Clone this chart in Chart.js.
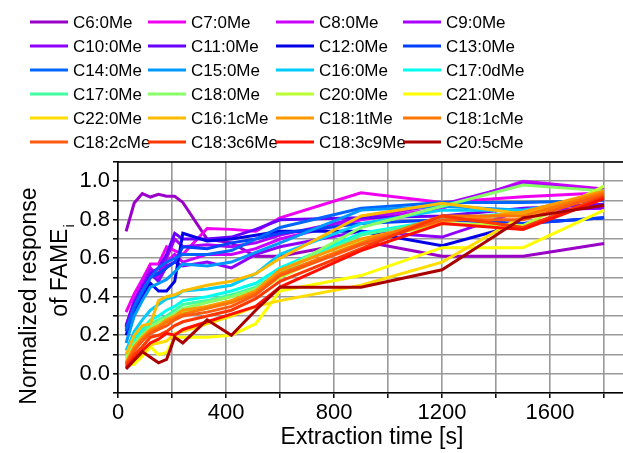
<!DOCTYPE html>
<html>
<head>
<meta charset="utf-8">
<script src="https://cdn.jsdelivr.net/npm/chart.js@4.4.1/dist/chart.umd.min.js"></script>
<style>
  html, body { margin: 0; padding: 0; background: #fff; }
  canvas { display: block; }
</style>
</head>
<body>
<canvas id="chart" width="623" height="453"></canvas>
<script>
// extraction times [s]
const times = [30, 60, 90, 120, 150, 180, 210, 240, 330, 420, 510, 600, 900, 1200, 1500, 1800];

const names = ['C6:0Me', 'C7:0Me', 'C8:0Me', 'C9:0Me', 'C10:0Me', 'C11:0Me', 'C12:0Me', 'C13:0Me',
  'C14:0Me', 'C15:0Me', 'C16:0Me', 'C17:0dMe', 'C17:0Me', 'C18:0Me', 'C20:0Me', 'C21:0Me',
  'C22:0Me', 'C16:1cMe', 'C18:1tMe', 'C18:1cMe', 'C18:2cMe', 'C18:3c6Me', 'C18:3c9Me', 'C20:5cMe'];

const colors = ['#9a00c8', '#f000f0', '#cc00ff', '#aa00ff', '#9000ff', '#6a00ff', '#0000e6', '#0040ff',
  '#0066ff', '#0099ff', '#00ccff', '#00ffee', '#40ffa0', '#88ff66', '#bbff33', '#ffff00',
  '#ffdd00', '#ffbb00', '#ff9900', '#ff7700', '#ff5a10', '#ff3800', '#ff1000', '#aa0000'];

// normalized response per FAME, one value per extraction time
const c6_0   = [0.74, 0.887, 0.936, 0.918, 0.932, 0.922, 0.922, 0.89, 0.70, 0.68, 0.61, 0.61, 0.69, 0.61, 0.61, 0.677];
const c7_0   = [0.32, 0.415, 0.49, 0.57, 0.57, 0.66, 0.64, 0.62, 0.755, 0.75, 0.74, 0.81, 0.94, 0.89, 0.92, 0.94];
const c8_0   = [0.25, 0.38, 0.47, 0.55, 0.50, 0.58, 0.62, 0.58, 0.62, 0.62, 0.65, 0.70, 0.80, 0.86, 1.00, 0.96];
const c9_0   = [0.24, 0.37, 0.45, 0.54, 0.52, 0.60, 0.70, 0.66, 0.67, 0.66, 0.68, 0.72, 0.81, 0.88, 0.99, 0.95];
const c10_0  = [0.24, 0.35, 0.44, 0.52, 0.48, 0.56, 0.58, 0.56, 0.58, 0.55, 0.62, 0.66, 0.74, 0.71, 0.85, 0.86];
const c11_0  = [0.25, 0.37, 0.45, 0.52, 0.55, 0.62, 0.73, 0.70, 0.70, 0.71, 0.75, 0.80, 0.81, 0.82, 0.86, 0.88];
const c12_0  = [0.20, 0.32, 0.40, 0.47, 0.43, 0.43, 0.48, 0.73, 0.69, 0.70, 0.72, 0.74, 0.74, 0.665, 0.78, 0.81];
const c13_0  = [0.22, 0.34, 0.42, 0.50, 0.52, 0.55, 0.58, 0.66, 0.65, 0.68, 0.70, 0.73, 0.78, 0.80, 0.78, 0.81];
const c14_0  = [0.23, 0.35, 0.43, 0.50, 0.55, 0.58, 0.60, 0.62, 0.62, 0.64, 0.70, 0.76, 0.86, 0.89, 0.89, 0.90];
const c15_0  = [0.16, 0.30, 0.38, 0.45, 0.47, 0.49, 0.53, 0.57, 0.56, 0.58, 0.63, 0.68, 0.85, 0.87, 0.85, 0.91];
const c16_0  = [0.12, 0.22, 0.28, 0.33, 0.36, 0.39, 0.40, 0.43, 0.44, 0.46, 0.52, 0.62, 0.78, 0.85, 0.85, 0.92];
const c17_0d = [0.10, 0.18, 0.23, 0.28, 0.30, 0.33, 0.35, 0.38, 0.40, 0.43, 0.47, 0.55, 0.73, 0.80, 0.84, 0.92];
const c17_0  = [0.09, 0.16, 0.21, 0.26, 0.28, 0.30, 0.33, 0.36, 0.38, 0.41, 0.45, 0.53, 0.72, 0.80, 0.83, 0.93];
const c18_0  = [0.08, 0.15, 0.20, 0.24, 0.27, 0.29, 0.31, 0.34, 0.37, 0.40, 0.44, 0.53, 0.76, 0.87, 0.98, 0.95];
const c20_0  = [0.07, 0.13, 0.18, 0.22, 0.25, 0.27, 0.29, 0.32, 0.35, 0.38, 0.42, 0.50, 0.69, 0.78, 0.77, 0.975];
const c21_0  = [0.04, 0.05, 0.09, 0.14, 0.10, 0.11, 0.19, 0.19, 0.19, 0.20, 0.26, 0.43, 0.51, 0.655, 0.655, 0.85];
const c22_0  = [0.03, 0.07, 0.10, 0.15, 0.16, 0.17, 0.21, 0.22, 0.26, 0.30, 0.35, 0.38, 0.46, 0.58, 0.82, 0.93];
const c16_1c = [0.10, 0.20, 0.25, 0.26, 0.38, 0.40, 0.41, 0.43, 0.46, 0.48, 0.52, 0.60, 0.82, 0.885, 0.83, 0.93];
const c18_1t = [0.06, 0.14, 0.19, 0.23, 0.25, 0.28, 0.30, 0.33, 0.35, 0.38, 0.43, 0.54, 0.70, 0.79, 0.84, 0.95];
const c18_1c = [0.05, 0.13, 0.18, 0.22, 0.24, 0.27, 0.29, 0.31, 0.34, 0.37, 0.42, 0.52, 0.68, 0.82, 0.82, 0.94];
const c18_2c = [0.05, 0.12, 0.17, 0.21, 0.23, 0.25, 0.28, 0.30, 0.32, 0.35, 0.41, 0.51, 0.67, 0.80, 0.80, 0.93];
const c18_3c6 = [0.04, 0.10, 0.14, 0.19, 0.20, 0.22, 0.25, 0.27, 0.30, 0.33, 0.39, 0.48, 0.65, 0.82, 0.76, 0.92];
const c18_3c9 = [0.03, 0.08, 0.12, 0.16, 0.18, 0.21, 0.20, 0.23, 0.27, 0.31, 0.35, 0.45, 0.64, 0.78, 0.75, 0.91];
const c20_5c = [0.025, 0.07, 0.115, 0.086, 0.057, 0.075, 0.19, 0.16, 0.28, 0.20, 0.33, 0.45, 0.45, 0.54, 0.81, 0.875];

const series = [c6_0, c7_0, c8_0, c9_0, c10_0, c11_0, c12_0, c13_0, c14_0, c15_0, c16_0, c17_0d,
  c17_0, c18_0, c20_0, c21_0, c22_0, c16_1c, c18_1t, c18_1c, c18_2c, c18_3c6, c18_3c9, c20_5c];

const xTicks = [0, 200, 400, 600, 800, 1000, 1200, 1400, 1600, 1800];
const yTicks = [-0.1, 0, 0.1, 0.2, 0.3, 0.4, 0.5, 0.6, 0.7, 0.8, 0.9, 1.0, 1.1];

const FONT = "'Liberation Sans', Arial, sans-serif";
Chart.defaults.font.family = FONT;
Chart.defaults.color = '#000';

const datasets = series.map((vals, i) => ({
  label: names[i],
  data: vals.map((v, k) => ({ x: times[k], y: v })),
  borderColor: colors[i],
  borderWidth: 3,
  pointRadius: 0,
  tension: 0,
  fill: false,
  order: series.length - i
}));

// legend grid + axis titles drawn on the canvas
const decorations = {
  id: 'decorations',
  afterDraw(chart) {
    const ctx = chart.ctx;
    const area = chart.chartArea;
    ctx.save();
    // frame top
    ctx.strokeStyle = '#000';
    ctx.lineWidth = 1.5;
    ctx.beginPath();
    ctx.moveTo(area.left, area.top);
    ctx.lineTo(area.right, area.top);
    ctx.stroke();

    // legend
    const colX = [30, 148, 276, 403];
    const rowY = [22, 46, 70, 94, 118, 142];
    ctx.font = '17px ' + FONT;
    ctx.textBaseline = 'middle';
    ctx.textAlign = 'left';
    names.forEach((n, i) => {
      const x = colX[i % 4], y = rowY[Math.floor(i / 4)];
      ctx.strokeStyle = colors[i];
      ctx.lineWidth = 3;
      ctx.beginPath();
      ctx.moveTo(x, y);
      ctx.lineTo(x + 38, y);
      ctx.stroke();
      ctx.fillStyle = '#000';
      ctx.fillText(n, x + 43, y + 1);
    });

    // x title
    ctx.font = '23px ' + FONT;
    ctx.textAlign = 'center';
    ctx.fillText('Extraction time [s]', 372, 438);

    // y title, two lines
    ctx.save();
    ctx.translate(30, 296);
    ctx.rotate(-Math.PI / 2);
    ctx.fillText('Normalized response', 0, 0);
    ctx.restore();

    ctx.save();
    ctx.translate(61, 271);
    ctx.rotate(-Math.PI / 2);
    ctx.textAlign = 'left';
    const main = 'of FAME';
    const w1 = ctx.measureText(main).width;
    ctx.font = '15px ' + FONT;
    const w2 = ctx.measureText('i').width;
    const start = -(w1 + w2) / 2;
    ctx.fillText('i', start + w1 + 1, 9);
    ctx.font = '23px ' + FONT;
    ctx.fillText(main, start, 0);
    ctx.restore();

    ctx.restore();
  }
};

new Chart(document.getElementById('chart'), {
  type: 'line',
  data: { datasets },
  options: {
    responsive: false,
    animation: false,
    devicePixelRatio: 1,
    layout: { padding: { top: 162, left: 0, right: 0, bottom: 0 } },
    plugins: { legend: { display: false }, tooltip: { enabled: false } },
    scales: {
      x: {
        type: 'linear',
        min: 0,
        max: 1870,
        afterBuildTicks: s => { s.ticks = xTicks.map(v => ({ value: v })); },
        afterFit: s => { s.height = 60; },
        grid: { color: '#999', lineWidth: 1.6, tickColor: '#000', tickLength: 5, tickWidth: 1.5 },
        border: { color: '#000', width: 1.6 },
        ticks: {
          autoSkip: false,
          maxRotation: 0,
          padding: 2,
          font: { size: 22 },
          callback: v => (v % 400 === 0 ? String(v) : '')
        }
      },
      y: {
        type: 'linear',
        min: -0.1,
        max: 1.1,
        afterBuildTicks: s => { s.ticks = yTicks.map(v => ({ value: v })); },
        afterFit: s => { s.width = 118; },
        grid: { color: '#999', lineWidth: 1.6, tickColor: '#000', tickLength: 5, tickWidth: 1.5 },
        border: { color: '#000', width: 1.6 },
        ticks: {
          autoSkip: false,
          padding: 3,
          font: { size: 22 },
          callback: v => {
            const k = Math.round(v * 10);
            return (k >= 0 && k % 2 === 0) ? (k / 10).toFixed(1) : '';
          }
        }
      }
    }
  },
  plugins: [decorations]
});
</script>
</body>
</html>
